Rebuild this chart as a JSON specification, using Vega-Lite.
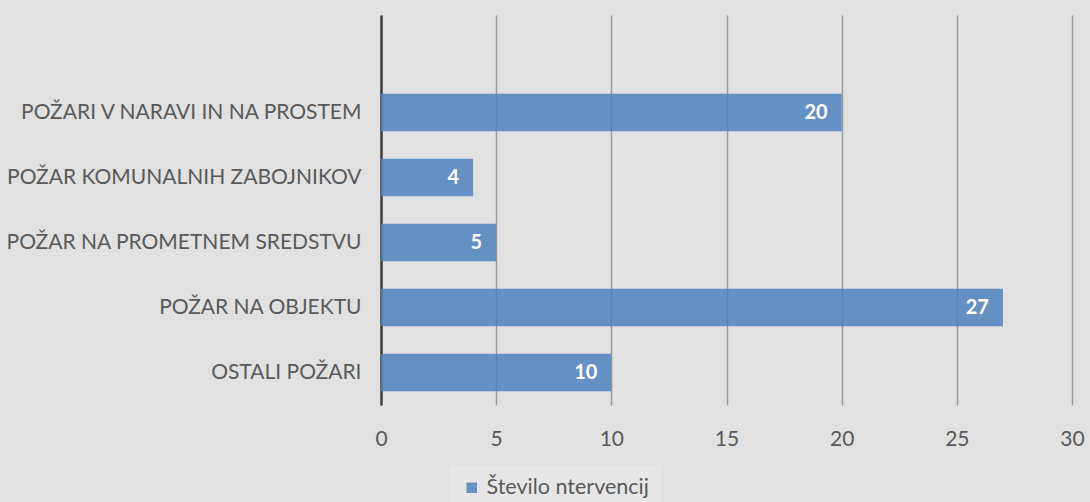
{
  "$schema": "https://vega.github.io/schema/vega-lite/v6.json",
  "autosize": {"type": "none"},
  "width": 691,
  "height": 390,
  "padding": {"left": 381, "top": 15, "right": 18, "bottom": 97},
  "background": "#e1e1e1",
  "config": {
    "view": {"stroke": null},
    "font": "Lato"
  },
  "data": {
    "values": [
      {"kategorija": "POŽARI V NARAVI IN NA PROSTEM", "stevilo": 20, "serija": "Število ntervencij"},
      {"kategorija": "POŽAR KOMUNALNIH ZABOJNIKOV", "stevilo": 4, "serija": "Število ntervencij"},
      {"kategorija": "POŽAR NA PROMETNEM SREDSTVU", "stevilo": 5, "serija": "Število ntervencij"},
      {"kategorija": "POŽAR NA OBJEKTU", "stevilo": 27, "serija": "Število ntervencij"},
      {"kategorija": "OSTALI POŽARI", "stevilo": 10, "serija": "Število ntervencij"}
    ]
  },
  "encoding": {
    "y": {
      "field": "kategorija",
      "type": "nominal",
      "scale": {
        "domain": [" ", "POŽARI V NARAVI IN NA PROSTEM", "POŽAR KOMUNALNIH ZABOJNIKOV", "POŽAR NA PROMETNEM SREDSTVU", "POŽAR NA OBJEKTU", "OSTALI POŽARI"],
        "paddingInner": 0.42,
        "paddingOuter": 0.21
      },
      "axis": {
        "title": null,
        "ticks": false,
        "labelPadding": 20,
        "labelLimit": 0,
        "labelFontSize": 21,
        "labelColor": "#595959",
        "labelFont": "Lato",
        "domainColor": "#404040",
        "domainWidth": 2.5,
        "grid": false
      }
    },
    "x": {
      "field": "stevilo",
      "type": "quantitative",
      "scale": {"domain": [0, 30], "nice": false},
      "axis": {
        "title": null,
        "values": [0, 5, 10, 15, 20, 25, 30],
        "ticks": false,
        "domain": false,
        "labelPadding": 23,
        "labelFontSize": 21,
        "labelColor": "#595959",
        "labelFont": "Lato",
        "gridColor": "#9a9a9a",
        "gridWidth": 1.5,
        "labelFlush": false
      }
    }
  },
  "layer": [
    {
      "mark": {"type": "bar", "opacity": 0.85},
      "encoding": {
        "color": {
          "field": "serija",
          "type": "nominal",
          "scale": {"range": ["#4f81bd"]},
          "legend": {
            "title": null,
            "orient": "none",
            "legendX": 68,
            "legendY": 450,
            "symbolType": "square",
            "symbolSize": 110,
            "symbolOpacity": 0.85,
            "labelFontSize": 21.5,
            "labelLimit": 0,
            "labelColor": "#595959",
            "labelFont": "Lato",
            "fillColor": "#e6e6e6",
            "padding": 12
          }
        }
      }
    },
    {
      "mark": {"type": "text", "align": "right", "dx": -14, "color": "white", "fontWeight": "bold", "fontSize": 20, "font": "Lato"},
      "encoding": {"text": {"field": "stevilo", "type": "quantitative"}}
    }
  ]
}
